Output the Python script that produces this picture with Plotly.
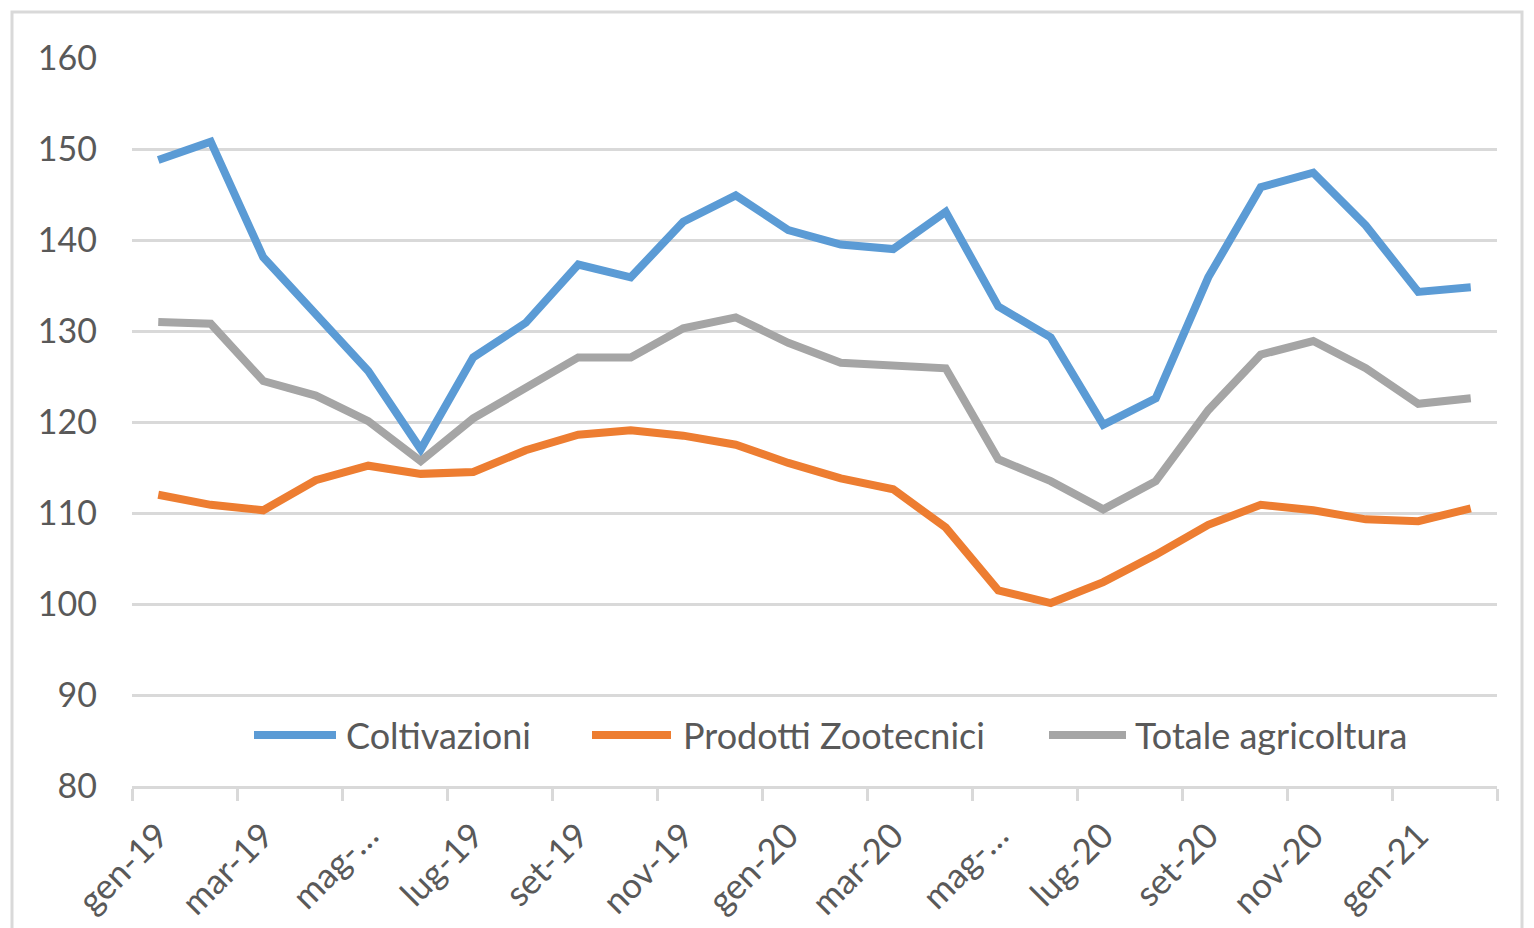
import plotly.graph_objects as go

months = ["gen-19", "feb-19", "mar-19", "apr-19", "mag-19", "giu-19", "lug-19", "ago-19",
          "set-19", "ott-19", "nov-19", "dic-19", "gen-20", "feb-20", "mar-20", "apr-20",
          "mag-20", "giu-20", "lug-20", "ago-20", "set-20", "ott-20", "nov-20", "dic-20",
          "gen-21", "feb-21"]
# displayed (Excel-truncated) labels every two months
tick_labels = ["gen-19", "mar-19", "mag-…", "lug-19", "set-19", "nov-19", "gen-20",
               "mar-20", "mag-…", "lug-20", "set-20", "nov-20", "gen-21"]

coltivazioni = [148.8, 150.8, 138.1, 132.0, 125.6, 117.0, 127.1, 130.9, 137.3, 135.9,
                142.0, 144.9, 141.1, 139.5, 139.0, 143.1, 132.7, 129.3, 119.7, 122.6,
                135.9, 145.8, 147.4, 141.6, 134.3, 134.8]
zootecnici = [112.0, 110.9, 110.3, 113.6, 115.2, 114.3, 114.5, 116.9, 118.6, 119.1,
              118.5, 117.5, 115.5, 113.8, 112.6, 108.4, 101.5, 100.1, 102.4, 105.4,
              108.7, 110.9, 110.3, 109.3, 109.1, 110.5]
totale = [131.0, 130.8, 124.5, 122.9, 120.1, 115.7, 120.4, 123.8, 127.1, 127.1,
          130.3, 131.5, 128.7, 126.5, 126.2, 125.9, 115.9, 113.5, 110.4, 113.5,
          121.3, 127.4, 128.9, 125.9, 122.0, 122.6]

series_names = ["Coltivazioni", "Prodotti Zootecnici", "Totale agricoltura"]
series_values = [coltivazioni, zootecnici, totale]
series_colors = ["#5b9bd5", "#ed7d31", "#a5a5a5"]

FONT = "Lato"
TXT = "#595959"

x = list(range(len(months)))
fig = go.Figure()
for name, vals, col in zip(series_names, series_values, series_colors):
    fig.add_trace(go.Scatter(x=x, y=vals, name=name, mode="lines",
                             customdata=months, showlegend=False,
                             line=dict(color=col, width=8),
                             hovertemplate="%{customdata}: %{y}<extra>" + name + "</extra>"))

# page is rendered with an 8px body offset
OFF = 8
W, H = 1534, 928
L, T = 132 - OFF, 58 - OFF
R = (W + OFF) - 1497
B = (H + OFF) - 786
pw, ph = W - L - R, H - T - B

def px(xp):  # page x -> paper
    return (xp - OFF - L) / pw

def py(yp):  # page y -> paper
    return (H + OFF - B - yp) / ph

fig.update_layout(
    width=W, height=H,
    margin=dict(l=L, r=R, t=T, b=B),
    paper_bgcolor="white", plot_bgcolor="white",
    font=dict(family=FONT, size=34, color=TXT),
    showlegend=False,
    xaxis=dict(range=[-0.5, len(months) - 0.5], tickmode="array",
               tickvals=x[::2], ticktext=tick_labels, tickangle=-45,
               ticks="", showgrid=False, zeroline=False,
               showline=True, linecolor="#d9d9d9", linewidth=3,
               ticklabelstandoff=12,
               minor=dict(tickmode="array",
                          tickvals=[i - 0.5 for i in range(0, len(months) + 1, 2)],
                          ticks="outside", ticklen=12, tickcolor="#d9d9d9", tickwidth=3,
                          showgrid=False),
               tickfont=dict(size=35, color=TXT)),
    yaxis=dict(range=[80, 160], dtick=10, tick0=80, showgrid=True, gridcolor="#d9d9d9",
               gridwidth=3, zeroline=False, showline=False, ticks="",
               ticklabelstandoff=34, tickfont=dict(size=34, color=TXT)),
)

# legend (Excel style: long line sample followed by the series name)
legend_y = py(735)
legend_line_x = [(254, 336), (592, 671), (1049, 1126)]
legend_text_x = [344, 681, 1133]
for name, col, (lx0, lx1), tx in zip(series_names, series_colors, legend_line_x, legend_text_x):
    fig.add_shape(type="line", xref="paper", yref="paper",
                  x0=px(lx0), x1=px(lx1), y0=legend_y, y1=legend_y,
                  line=dict(color=col, width=8))
    fig.add_annotation(xref="paper", yref="paper", x=px(tx), y=legend_y,
                       xanchor="left", yanchor="middle", text=name, showarrow=False,
                       font=dict(family=FONT, size=36, color=TXT))

# outer chart border (Excel chart area)
fig.add_shape(type="rect", xref="paper", yref="paper",
              x0=px(12), x1=px(1522), y0=py(960), y1=py(12),
              line=dict(color="#d9d9d9", width=3), fillcolor="rgba(0,0,0,0)", layer="below")

fig.write_html("out.html")
